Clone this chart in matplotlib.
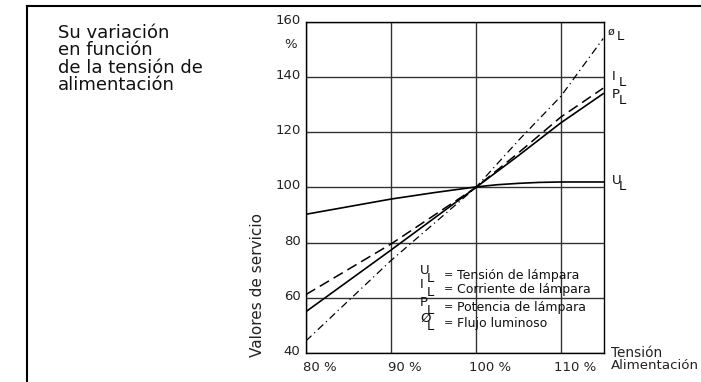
import matplotlib
matplotlib.use("Agg")
import matplotlib.pyplot as plt
from matplotlib.lines import Line2D
from matplotlib.transforms import ScaledTranslation

plt.rcParams['font.family'] = ['DejaVu Sans']

# valores (tension de alimentacion en %)
tension = [80, 90, 100, 105, 110, 115]
tension_u = [80, 90, 95, 100, 102.5, 105, 107.5, 110, 115]
u_lampara = [90.3, 95.8, 98.1, 100.2, 101.0, 101.5, 101.85, 102.0, 102.0]
i_lampara = [61.2, 79.5, 100.0, 112.5, 125.5, 136.0]
p_lampara = [55.0, 77.3, 100.0, 111.5, 123.4, 134.0]
flujo = [44.4, 73.5, 100.0, 117.0, 133.0, 154.0]

xticks = [80, 90, 100, 110]
xticklabels = ['80 %', '90 %', '100 %', '110 %']
yticks = [40, 60, 80, 100, 120, 140, 160]

titulo = ['Su variación', 'en función', 'de la tensión de', 'alimentación']
leyenda = [('U', 'Tensión de lámpara'),
           ('I', 'Corriente de lámpara'),
           ('P', 'Potencia de lámpara'),
           ('Ø', 'Flujo luminoso')]

W, H = 701, 382
fig = plt.figure(figsize=(W / 100, H / 100), dpi=100)

def fx(x):
    return x / W

def fy(y):
    return 1 - y / H

ax = fig.add_axes([fx(306), fy(353), 298 / W, 331 / H])
ax.set_xlim(80, 115.1)
ax.set_ylim(40, 160)

ax.plot(tension_u, u_lampara, color='black', lw=1.2)
ax.plot(tension, i_lampara, color='black', lw=1.1, linestyle=(0, (7, 3.5)))
ax.plot(tension, p_lampara, color='black', lw=1.2)
ax.plot(tension, flujo, color='black', lw=0.9, linestyle=(0, (6, 3, 1, 3)))

ax.set_xticks(xticks)
ax.set_xticklabels(xticklabels)
ax.set_yticks(yticks)
ax.grid(True, color='#333333', lw=1.0)
ax.set_axisbelow(True)
ax.tick_params(length=0, labelsize=9.5, colors='#222222')
ax.tick_params(axis='x', pad=5.5)
ax.tick_params(axis='y', pad=4)
for lab in ax.get_xticklabels():
    lab.set_transform(lab.get_transform() + ScaledTranslation(0.14, 0, fig.dpi_scale_trans))
for lab in ax.get_yticklabels():
    lab.set_transform(lab.get_transform() + ScaledTranslation(0, 0.03, fig.dpi_scale_trans))
for s in ax.spines.values():
    s.set_linewidth(1.0)

# marco exterior
fig.add_artist(Line2D([fx(27), 1], [fy(6), fy(6)], color='black', lw=1.5))
fig.add_artist(Line2D([fx(27), fx(27)], [fy(6), 0], color='black', lw=1.5))

for k, linea in enumerate(titulo):
    fig.text(fx(58), fy(38 + 17.3 * k), linea, fontsize=13, va='baseline', ha='left',
             color='#111111')

fig.text(fx(291), fy(44), '%', fontsize=9.5, ha='center', va='center', color='#222222')
fig.text(fx(258), fy(285), 'Valores de servicio', rotation=90, fontsize=11,
         ha='center', va='center', color='#222222')
fig.text(fx(611), fy(357), 'Tensión', fontsize=9.8, ha='left', va='baseline', color='#222222')
fig.text(fx(611), fy(369), 'Alimentación', fontsize=9.6, ha='left', va='baseline', color='#222222')

def simbolo(x, y, letra, dy=7, size=9.5):
    fig.text(fx(x), fy(y), letra, fontsize=size, ha='left', va='center', color='#111111')
    fig.text(fx(x + 7), fy(y + dy), 'L', fontsize=size, ha='left', va='center', color='#111111')

# etiquetas de las curvas
fig.text(fx(608), fy(32), 'ø', fontsize=8, ha='left', va='center', color='#111111')
fig.text(fx(617), fy(37), 'L', fontsize=9.5, ha='left', va='center', color='#111111')
simbolo(612, 76, 'I')
simbolo(612, 94, 'P')
simbolo(612, 181, 'U', dy=6)

# leyenda interior
filas = [275, 289, 307, 323]
for (letra, texto), yc in zip(leyenda, filas):
    simbolo(420, yc - 5, letra, dy=8)
    fig.text(fx(444), fy(yc), '=', fontsize=8, ha='left', va='center', color='#111111')
    fig.text(fx(457), fy(yc), texto, fontsize=9, ha='left', va='center', color='#111111')

fig.savefig('out.png', dpi=100)
